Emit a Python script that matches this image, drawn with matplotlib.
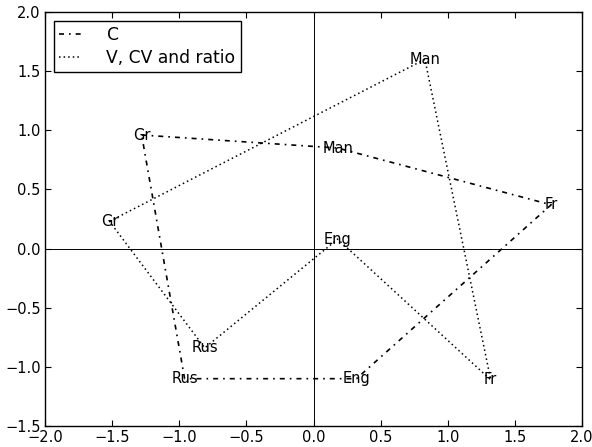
import matplotlib
matplotlib.use("Agg")
from matplotlib import pyplot as plt

# categories, in the order they are joined
names = ["Gr", "Man", "Fr", "Eng", "Rus"]

# "C" polygon
c_x = [-1.28, 0.18, 1.77, 0.32, -0.96]
c_y = [0.96, 0.85, 0.37, -1.10, -1.10]

# "V, CV and ratio" polygon
v_x = [-1.52, 0.83, 1.32, 0.18, -0.81]
v_y = [0.23, 1.60, -1.11, 0.08, -0.84]

x_ticks = [-2.0, -1.5, -1.0, -0.5, 0.0, 0.5, 1.0, 1.5, 2.0]
y_ticks = [-1.5, -1.0, -0.5, 0.0, 0.5, 1.0, 1.5, 2.0]

plt.rcParams['font.family'] = ['DejaVu Sans']

fig = plt.figure(figsize=(5.92, 4.47), dpi=100)
ax = fig.add_axes([45 / 592, 21 / 447, 537 / 592, 414 / 447])

# closed loops
ax.plot(c_x + c_x[:1], c_y + c_y[:1], color='black', lw=1.2,
        linestyle=(0, (3, 3, 1, 3)), label="C")
ax.plot(v_x + v_x[:1], v_y + v_y[:1], color='black', lw=1.1,
        linestyle=(0, (1, 2)), label="V, CV and ratio")

for n, x, y in zip(names, c_x, c_y):
    ax.text(x, y, n, ha='center', va='center', fontsize=10.5)
for n, x, y in zip(names, v_x, v_y):
    ax.text(x, y, n, ha='center', va='center', fontsize=10.5)

ax.axhline(0, color='black', lw=0.7)
ax.axvline(0, color='black', lw=0.7)

ax.set_xlim(-2, 2)
ax.set_ylim(-1.5, 2)
ax.set_xticks(x_ticks)
ax.set_yticks(y_ticks)
ax.set_xticklabels([f"{t:.1f}".replace("-", "\u2212") for t in x_ticks])
ax.set_yticklabels([f"{t:.1f}".replace("-", "\u2212") for t in y_ticks])
ax.tick_params(direction='in', length=4, width=0.8, top=True, right=True,
               labelsize=10.5, pad=3)
for s in ax.spines.values():
    s.set_linewidth(1.0)

leg = ax.legend(loc='upper left', fontsize=12.3, handlelength=1.3,
                handletextpad=1.5, borderpad=0.3, labelspacing=0.3,
                fancybox=False, framealpha=1, edgecolor='black',
                borderaxespad=0.5)
leg.get_frame().set_linewidth(1.0)

plt.savefig("out.png", dpi=100)
